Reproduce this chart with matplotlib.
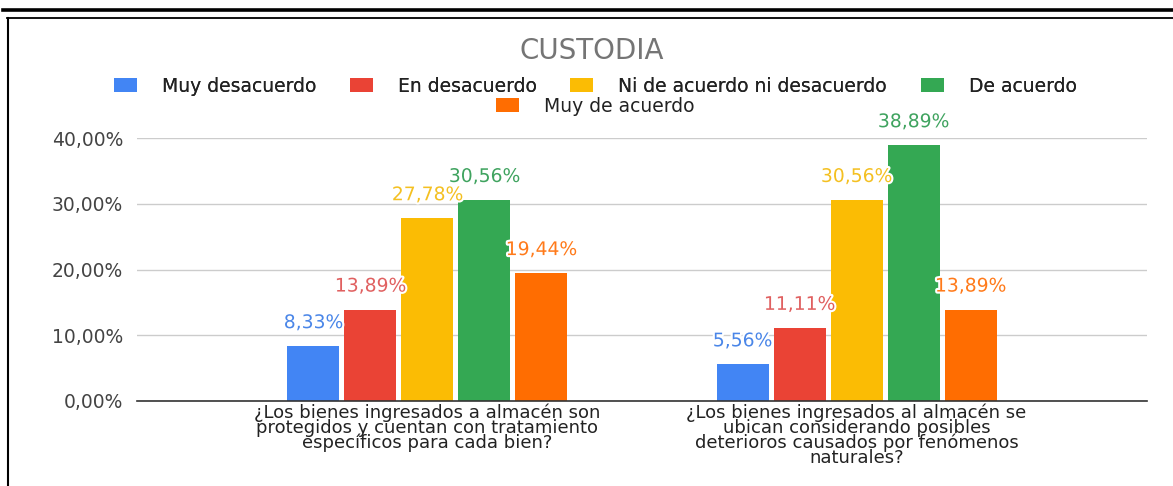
import numpy as np
import matplotlib
matplotlib.use("Agg")
from matplotlib import pyplot as plt
from matplotlib.lines import Line2D
from matplotlib.patches import Patch
import matplotlib.patheffects as pe

plt.rcParams['font.family'] = ['DejaVu Sans']

# datos
preguntas = [
    "¿Los bienes ingresados a almacén son\nprotegidos y cuentan con tratamiento\nespecíficos para cada bien?",
    "¿Los bienes ingresados al almacén se\nubican considerando posibles\ndeterioros causados por fenómenos\nnaturales?",
]
respuestas = ["Muy desacuerdo", "En desacuerdo", "Ni de acuerdo ni desacuerdo",
              "De acuerdo", "Muy de acuerdo"]
muy_desacuerdo = [8.33, 5.56]
en_desacuerdo = [13.89, 11.11]
ni_ni = [27.78, 30.56]
de_acuerdo = [30.56, 38.89]
muy_de_acuerdo = [19.44, 13.89]
y_ticks = [0, 10, 20, 30, 40]
y_labels = ["0,00%", "10,00%", "20,00%", "30,00%", "40,00%"]

series = [muy_desacuerdo, en_desacuerdo, ni_ni, de_acuerdo, muy_de_acuerdo]
colores = ["#4285F4", "#EA4335", "#FBBC04", "#34A853", "#FF6D01"]
colores_txt = ["#4a86e8", "#e06060", "#f4c021", "#3fa35f", "#ff7a1a"]

W, H = 1173, 486
fig = plt.figure(figsize=(W / 100, H / 100), dpi=100)
ax = fig.add_axes([137 / W, 1 - 401 / H, (1147 - 137) / W, (401 - 138) / H])

x = np.arange(len(preguntas))
paso = 57 / 429
ancho = 52 / 429
for i, (vals, c, ct) in enumerate(zip(series, colores, colores_txt)):
    pos = x + (i - 2) * paso
    ax.bar(pos, vals, width=ancho, color=c, label=respuestas[i], zorder=3)
    for xp, v in zip(pos, vals):
        ax.annotate(f"{v:.2f}".replace(".", ",") + "%", (xp, v), xytext=(0, 17),
                    textcoords="offset points", ha="center", va="center",
                    fontsize=13.5, color=ct, zorder=4,
                    path_effects=[pe.withStroke(linewidth=3, foreground="white")])

ax.set_xlim(-0.677, 1.677)
ax.set_ylim(0, 40)
ax.set_yticks(y_ticks)
ax.set_yticklabels(y_labels, fontsize=13.5, color="#444444")
ax.set_xticks(x)
ax.set_xticklabels(preguntas, fontsize=13, color="#222222", linespacing=0.76)
ax.tick_params(axis="both", length=0)
ax.tick_params(axis="y", pad=10)
ax.tick_params(axis="x", pad=2)
ax.grid(axis="y", color="#cccccc", linewidth=1, zorder=0)
for s in ["top", "left", "right"]:
    ax.spines[s].set_visible(False)
ax.spines["bottom"].set_color("#333333")
ax.spines["bottom"].set_linewidth(1.2)
ax.spines["bottom"].set_zorder(5)

fig.text(592 / W, 1 - 51 / H, "CUSTODIA", ha="center", va="center",
         fontsize=20, color="#757575")

handles = [Patch(facecolor=c, edgecolor="none") for c in colores]
opts = dict(loc="center", frameon=False, fontsize=13.5, handlelength=1.23,
            handleheight=0.8, handletextpad=1.33, labelcolor="#222222")
ley1 = fig.legend(handles[:4], respuestas[:4], ncol=4,
                  bbox_to_anchor=(595 / W, 1 - 86 / H), columnspacing=1.8, **opts)
ley2 = fig.legend(handles[4:], respuestas[4:], ncol=1,
                  bbox_to_anchor=(595 / W, 1 - 106 / H), **opts)
fig.add_artist(ley1)

# marco
fig.add_artist(Line2D([3 / W, 1], [1 - 10 / H, 1 - 10 / H], color="black", linewidth=2.6))
fig.add_artist(Line2D([7 / W, 1], [1 - 18 / H, 1 - 18 / H], color="black", linewidth=1.3))
fig.add_artist(Line2D([8 / W, 8 / W], [0, 1 - 18 / H], color="black", linewidth=1.5))

fig.savefig("out.png", dpi=100)
